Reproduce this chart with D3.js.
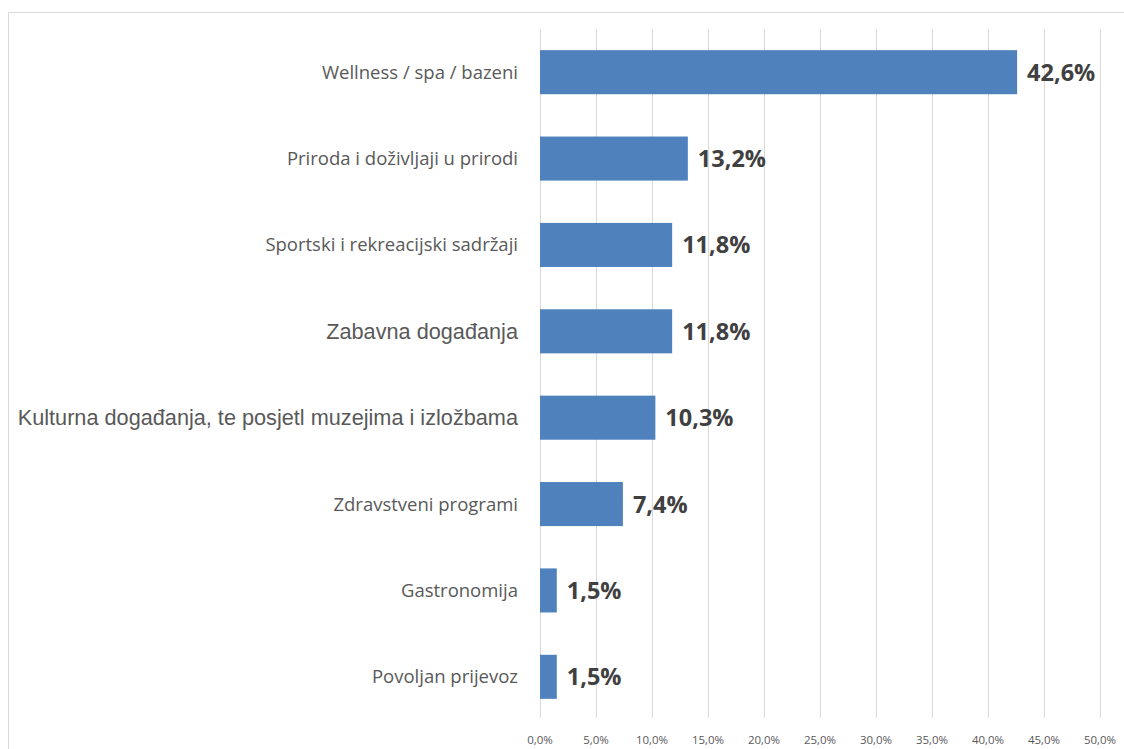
<!DOCTYPE html>
<meta charset='utf-8'>
<style>
  body { margin: 0; background: #fff; }
  .grid line { stroke: #d9d9d9; stroke-width: 1px; }
  .ticks text { font-family: 'Open Sans', sans-serif; font-size: 11.5px; fill: #595959; }
  .cats text { fill: #595959; }
  .vals text { font-family: 'Open Sans', sans-serif; font-weight: bold; font-size: 23.5px; fill: #404040; }
</style>
<svg width='1124' height='749'></svg>

<script src='https://cdn.jsdelivr.net/npm/d3@7'></script>

<script>
  // chart data
  var categories = [
    'Wellness / spa / bazeni',
    'Priroda i doživljaji u prirodi',
    'Sportski i rekreacijski sadržaji',
    'Zabavna događanja',
    'Kulturna događanja, te posjetl muzejima i izložbama',
    'Zdravstveni programi',
    'Gastronomija',
    'Povoljan prijevoz'
  ];
  var values = [42.6, 13.2, 11.8, 11.8, 10.3, 7.4, 1.5, 1.5];
  var ticks = [0, 5, 10, 15, 20, 25, 30, 35, 40, 45, 50];
  // the two labels typed in a different font in the original
  var arialLabels = ['Zabavna događanja', 'Kulturna događanja, te posjetl muzejima i izložbama'];

  var svg = d3.select('svg');

  // outer chart frame (only top and left edges are visible)
  svg.append('path')
    .attr('d', 'M8.5,749 V12.5 H1124')
    .attr('fill', 'none')
    .attr('stroke', '#d9d9d9');

  var x = d3.scaleLinear().domain([0, 50]).range([540, 1100]);
  var y = d3.scaleBand().domain(categories).range([29, 720]).paddingInner(0.49).paddingOuter(0.245);

  var fmt = v => d3.format('.1f')(v).replace('.', ',') + '%';

  svg.append('g').attr('class', 'grid')
    .selectAll('line')
    .data(ticks)
    .enter().append('line')
      .attr('x1', d => Math.round(x(d)) + 0.5)
      .attr('x2', d => Math.round(x(d)) + 0.5)
      .attr('y1', 29)
      .attr('y2', 718);

  svg.append('g').attr('class', 'ticks')
    .selectAll('text')
    .data(ticks)
    .enter().append('text')
      .attr('x', d => x(d))
      .attr('y', 744)
      .attr('text-anchor', 'middle')
      .text(d => fmt(d));

  svg.append('g')
    .selectAll('rect')
    .data(values)
    .enter().append('rect')
      .attr('x', x(0))
      .attr('y', (d, i) => y(categories[i]))
      .attr('width', d => x(d) - x(0))
      .attr('height', y.bandwidth())
      .attr('fill', '#4f81bd');

  svg.append('g').attr('class', 'cats')
    .selectAll('text')
    .data(categories)
    .enter().append('text')
      .attr('x', 518)
      .attr('y', d => y(d) + y.bandwidth() / 2)
      .attr('dy', '0.35em')
      .attr('text-anchor', 'end')
      .style('font-family', d => arialLabels.includes(d) ? "'Liberation Sans', Arial, sans-serif" : "'Open Sans', sans-serif")
      .style('font-size', d => arialLabels.includes(d) ? '21.7px' : '18.5px')
      .text(d => d);

  svg.append('g').attr('class', 'vals')
    .selectAll('text')
    .data(values)
    .enter().append('text')
      .attr('x', d => x(d) + 10)
      .attr('y', (d, i) => y(categories[i]) + y.bandwidth() / 2)
      .attr('dy', '0.36em')
      .text(d => fmt(d));
</script>
